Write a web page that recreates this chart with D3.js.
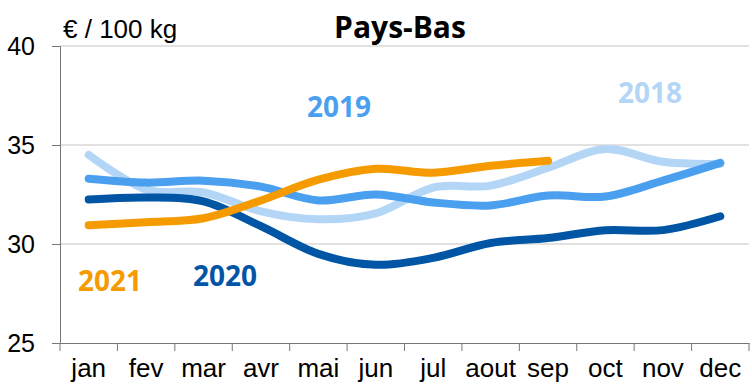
<!DOCTYPE html>
<html>
<head>
<meta charset="utf-8">
<script src="https://cdn.jsdelivr.net/npm/d3@7"></script>
<style>
  html, body { margin: 0; padding: 0; background: #fff; }
  svg { display: block; }
</style>
</head>
<body>
<svg id="chart" width="752" height="389"></svg>
<script>
// Monthly prices, € / 100 kg, Pays-Bas
const months = ["jan", "fev", "mar", "avr", "mai", "jun", "jul", "aout", "sep", "oct", "nov", "dec"];
const yTicks = [25, 30, 35, 40];

const values2018 = [34.5, 32.75, 32.6, 31.65, 31.25, 31.55, 32.85, 32.95, 33.85, 34.8, 34.15, 34.05];
const values2019 = [33.3, 33.1, 33.2, 32.9, 32.2, 32.5, 32.1, 31.95, 32.45, 32.4, 33.2, 34.1];
const values2020 = [32.25, 32.35, 32.15, 30.9, 29.5, 28.95, 29.3, 30.05, 30.3, 30.7, 30.7, 31.4];
const values2021 = [30.95, 31.1, 31.3, 32.2, 33.25, 33.8, 33.6, 33.95, 34.2];

const series = [
  { name: "2018", values: values2018, color: "#b3d6f7", lx: 618, ly: 103 },
  { name: "2019", values: values2019, color: "#4a9fee", lx: 307, ly: 117 },
  { name: "2020", values: values2020, color: "#0055a5", lx: 193, ly: 286 },
  { name: "2021", values: values2021, color: "#f59b00", lx: 78, ly: 291 }
];

const svg = d3.select("#chart");
const plotLeft = 60, plotRight = 749, plotTop = 46, plotBottom = 343;

const x = d3.scaleBand().domain(months).range([plotLeft, plotRight]);
const y = d3.scaleLinear().domain([25, 40]).range([plotBottom, plotTop]);
const cx = m => x(m) + x.bandwidth() / 2;

// horizontal gridlines
svg.append("g")
  .selectAll("line")
  .data(yTicks.filter(t => t > 25))
  .join("line")
  .attr("x1", plotLeft).attr("x2", plotRight)
  .attr("y1", d => y(d)).attr("y2", d => y(d))
  .attr("stroke", "#c4c4c4").attr("stroke-width", 1);

// y axis
const yAxis = svg.append("g")
  .attr("transform", `translate(${plotLeft},0)`)
  .call(d3.axisLeft(y).tickValues(yTicks).tickSize(8).tickPadding(17).tickFormat(d3.format("d")));
yAxis.select(".domain").attr("stroke", "#777");
yAxis.selectAll(".tick line").attr("stroke", "#777");
yAxis.selectAll("text")
  .attr("font-family", "'Liberation Sans', Arial, sans-serif")
  .attr("font-size", 25).attr("fill", "#000");

// x axis with tick marks on the month boundaries
const xAxis = svg.append("g")
  .attr("transform", `translate(0,${plotBottom})`)
  .call(d3.axisBottom(x).tickSize(0).tickPadding(16));
xAxis.select(".domain").attr("stroke", "#777");
xAxis.selectAll("text")
  .attr("font-family", "'Liberation Sans', Arial, sans-serif")
  .attr("font-size", 26).attr("fill", "#000");
xAxis.append("g")
  .selectAll("line")
  .data(d3.range(months.length + 1))
  .join("line")
  .attr("x1", i => plotLeft + i * x.step()).attr("x2", i => plotLeft + i * x.step())
  .attr("y1", 0).attr("y2", 8)
  .attr("stroke", "#777");

// lines
const line = d3.line()
  .x((d, i) => cx(months[i]))
  .y(d => y(d))
  .curve(d3.curveCardinal.tension(0));

svg.append("g")
  .selectAll("path")
  .data(series)
  .join("path")
  .attr("d", d => line(d.values))
  .attr("fill", "none")
  .attr("stroke", d => d.color)
  .attr("stroke-width", 8)
  .attr("stroke-linecap", "round")
  .attr("stroke-linejoin", "round");

// series labels
svg.append("g")
  .selectAll("text")
  .data(series)
  .join("text")
  .attr("x", d => d.lx).attr("y", d => d.ly)
  .attr("font-family", "'Open Sans', sans-serif")
  .attr("font-weight", "bold")
  .attr("font-size", 28)
  .attr("fill", d => d.color)
  .text(d => d.name);

// title and unit
svg.append("text")
  .attr("x", 400).attr("y", 38)
  .attr("text-anchor", "middle")
  .attr("font-family", "'Open Sans', sans-serif")
  .attr("font-weight", "bold")
  .attr("font-size", 30)
  .attr("fill", "#000")
  .text("Pays-Bas");

svg.append("text")
  .attr("x", 63).attr("y", 38)
  .attr("font-family", "'Liberation Sans', Arial, sans-serif")
  .attr("font-size", 26)
  .attr("fill", "#000")
  .text("€ / 100 kg");
</script>
</body>
</html>
